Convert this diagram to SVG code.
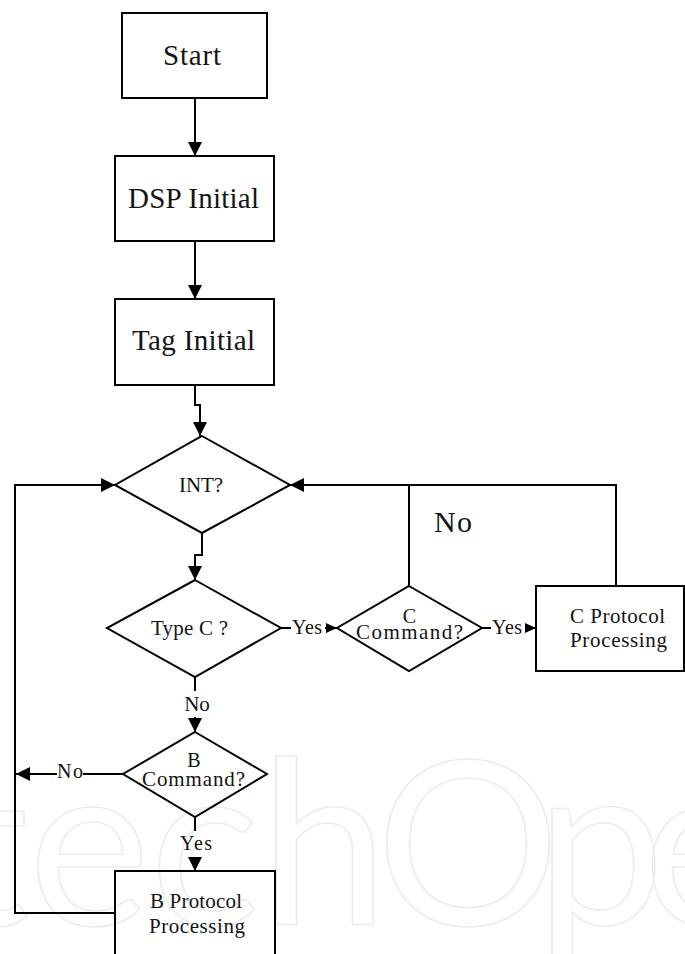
<svg xmlns="http://www.w3.org/2000/svg" width="685" height="954" viewBox="0 0 685 954">
<style>
.bg{fill:#fff}
.wm{font-family:Lato,"Noto Sans",sans-serif;font-size:230px;fill:none;stroke:#ececec;stroke-width:1.6}
.box{fill:none;stroke:#000;stroke-width:2}
.ln{fill:none;stroke:#000;stroke-width:2}
.t{font-family:"Liberation Serif",serif;fill:#141414}
.big{font-size:29px}
.mid{font-size:21px}
.sm{font-size:20px}
</style>
<defs>
<marker id="ah" markerUnits="userSpaceOnUse" markerWidth="15" markerHeight="15" refX="14" refY="7" orient="auto">
<path d="M0,0 L14,7 L0,14 z" fill="#000"/>
</marker>
<marker id="ahs" markerUnits="userSpaceOnUse" markerWidth="12" markerHeight="12" refX="11" refY="5" orient="auto">
<path d="M0,0 L11,5 L0,10 z" fill="#000"/>
</marker>
</defs>
<rect class="bg" x="0" y="0" width="685" height="954"/>
<g id="watermark">
<text class="wm" x="388" y="925" text-anchor="end">Intech</text>
<text class="wm" x="376" y="925" letter-spacing="-22">Open</text>
</g>
<g id="connectors">
<path class="ln" d="M195,98 V156" marker-end="url(#ah)"/>
<path class="ln" d="M195,241 V299" marker-end="url(#ah)"/>
<path class="ln" d="M195,385 V405 H200 V436" marker-end="url(#ah)"/>
<path class="ln" d="M202,533 V555 H195 V580" marker-end="url(#ah)"/>
<path class="ln" d="M281,628 H291"/>
<path class="ln" d="M325,628 H337" marker-end="url(#ahs)"/>
<path class="ln" d="M482,628 H491"/>
<path class="ln" d="M525,628 H536" marker-end="url(#ahs)"/>
<path class="ln" d="M616,586 V485 H290" marker-end="url(#ah)"/>
<path class="ln" d="M409,586 V485"/>
<path class="ln" d="M195,677 V691"/>
<path class="ln" d="M195,717 V732" marker-end="url(#ah)"/>
<path class="ln" d="M123,774 H83"/>
<path class="ln" d="M57,774 H16" marker-end="url(#ah)"/>
<path class="ln" d="M195,817 V831"/>
<path class="ln" d="M195,857 V871" marker-end="url(#ah)"/>
<path class="ln" d="M115,913 H15 V485 H115" marker-end="url(#ah)"/>
<text class="t sm" x="292" y="634" textLength="30">Yes</text>
<text class="t sm" x="492" y="634" textLength="30">Yes</text>
<text class="t" style="font-size:30px" x="434" y="532" textLength="38">No</text>
<text class="t mid" x="197" y="711" text-anchor="middle">No</text>
<text class="t sm" x="57" y="778" textLength="26">No</text>
<text class="t sm" x="180" y="850" textLength="32">Yes</text>
</g>
<g id="start">
<rect class="box" x="122" y="13" width="145" height="85"/>
<text class="t big" x="163" y="65" textLength="58">Start</text>
</g>
<g id="dsp">
<rect class="box" x="115" y="156" width="159" height="85"/>
<text class="t big" x="128" y="208" textLength="131">DSP Initial</text>
</g>
<g id="tag">
<rect class="box" x="115" y="299" width="159" height="86"/>
<text class="t big" x="132" y="350" textLength="123">Tag Initial</text>
</g>
<g id="int">
<polygon class="box" points="202,436 290,485 202,533 115,485"/>
<text class="t mid" x="179" y="492" textLength="44">INT?</text>
</g>
<g id="typec">
<polygon class="box" points="195,580 281,628 195,677 107,628"/>
<text class="t mid" x="151" y="635" textLength="77">Type C ?</text>
</g>
<g id="ccmd">
<polygon class="box" points="409,586 482,628 409,671 337,628"/>
<text class="t sm" x="409.5" y="623" text-anchor="middle">C</text>
<text class="t mid" x="356" y="639" textLength="107">Command?</text>
</g>
<g id="cproc">
<rect class="box" x="536" y="586" width="148" height="85"/>
<text class="t mid" x="570" y="623" textLength="95">C Protocol</text>
<text class="t mid" x="570" y="647" textLength="97">Processing</text>
</g>
<g id="bcmd">
<polygon class="box" points="195,732 267,774 195,817 123,774"/>
<text class="t sm" x="194" y="767" text-anchor="middle">B</text>
<text class="t mid" x="142" y="786" textLength="103">Command?</text>
</g>
<g id="bproc">
<rect class="box" x="115" y="871" width="160" height="100"/>
<text class="t mid" x="150" y="908" textLength="92">B Protocol</text>
<text class="t mid" x="149" y="933" textLength="96">Processing</text>
</g>
</svg>
